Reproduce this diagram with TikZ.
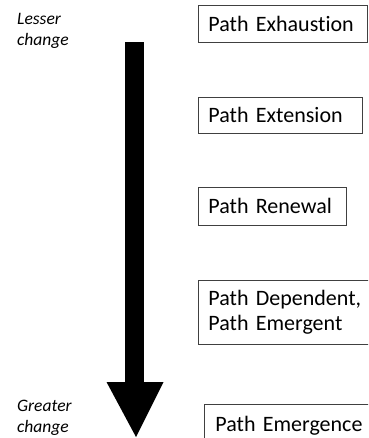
\documentclass[tikz,border=0pt]{standalone}
\usepackage{fontspec}
\setmainfont[Ligatures=NoCommon]{Carlito}

\tikzset{
  stagebox/.style={draw=black!75, line width=0.8pt, anchor=north west, align=left,
    inner xsep=10pt, inner ysep=0pt, font=\fontsize{22}{25}\selectfont},
  sidelabel/.style={anchor=north west, align=left, inner sep=0pt,
    font=\fontsize{17.5}{21}\selectfont\itshape}
}

\begin{document}
\begin{tikzpicture}[x=1pt,y=-1pt]
    \useasboundingbox (0,0) rectangle (368,438);
    \clip (0,0) rectangle (368,438);
    % Below nodes are the stages.
        \node[stagebox, text width=149pt, minimum height=37pt] (exhaust) at (198,5) {Path Exhaustion};
        \node[stagebox, text width=144pt, minimum height=36pt] (extend) at (198,97) {Path Extension};
        \node[stagebox, text width=128pt, minimum height=38pt] (renew) at (198,187) {Path Renewal};
        \node[stagebox, text width=160pt, minimum height=64pt] (depend) at (198,280) {Path Dependent,\\Path Emergent};
        \node[stagebox, text width=160pt, minimum height=42pt, inner xsep=11pt] (emerge) at (204,404) {Path Emergence};
    % The two ends of the scale.
        \node[sidelabel] (lesser) at (17,13) {Lesser\\change};
        \node[sidelabel] (greater) at (17,400) {Greater\\change};
    % This draws the big arrow.
        \coordinate (top) at (134.5,42);
        \coordinate (neck) at (134.5,382);
        \coordinate (tip) at (136,437);
        \fill (top) ++(-9.5,0) rectangle ([xshift=9.5pt]neck);
        \fill (neck) ++(-28,0) -- ([xshift=29pt]neck) -- (tip) -- cycle;
\end{tikzpicture}
\end{document}
